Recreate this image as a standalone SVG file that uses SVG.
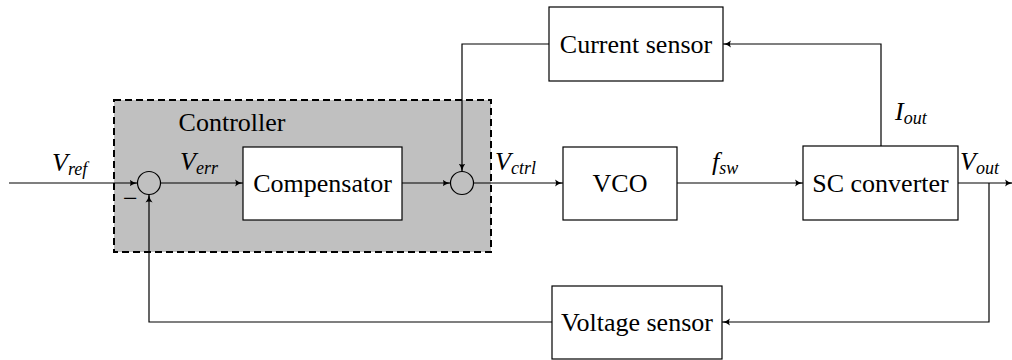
<svg xmlns="http://www.w3.org/2000/svg" width="1012" height="360" viewBox="0 0 1012 360">
<defs>
<marker id="ah" markerWidth="10" markerHeight="8" refX="8" refY="4" orient="auto" markerUnits="userSpaceOnUse">
<path d="M0,0.5 Q3,3.2 8,4 Q3,4.8 0,7.5 Q2,4 0,0.5Z" fill="#000"/>
</marker>
</defs>
<g id="controller">
<rect fill="#c0c0c0" stroke="#000" stroke-width="2" stroke-dasharray="7,4" x="114" y="100" width="377" height="152"/>
<text font-family="Liberation Serif" font-size="26" text-anchor="middle" x="232" y="131">Controller</text>
</g>
<g id="sum1"><circle fill="none" stroke="#000" stroke-width="1.2" cx="149" cy="183" r="11.5"/></g>
<g id="sum2"><circle fill="none" stroke="#000" stroke-width="1.2" cx="462" cy="183" r="11.5"/></g>
<g id="compensator"><rect fill="#fff" stroke="#000" stroke-width="1.2" x="243" y="147" width="159" height="73"/><text font-family="Liberation Serif" font-size="26" text-anchor="middle" x="322.5" y="192">Compensator</text></g>
<g id="vco"><rect fill="#fff" stroke="#000" stroke-width="1.2" x="563" y="147" width="114" height="73"/><text font-family="Liberation Serif" font-size="26" text-anchor="middle" x="620" y="192">VCO</text></g>
<g id="sc"><rect fill="#fff" stroke="#000" stroke-width="1.2" x="803" y="146" width="155" height="74"/><text font-family="Liberation Serif" font-size="26" text-anchor="middle" x="880.5" y="192">SC converter</text></g>
<g id="current"><rect fill="#fff" stroke="#000" stroke-width="1.2" x="549" y="7" width="174" height="74"/><text font-family="Liberation Serif" font-size="26" text-anchor="middle" x="636" y="53">Current sensor</text></g>
<g id="voltage"><rect fill="#fff" stroke="#000" stroke-width="1.2" x="552" y="286" width="170" height="73"/><text font-family="Liberation Serif" font-size="26" text-anchor="middle" x="637" y="331">Voltage sensor</text></g>
<g id="connectors" fill="none" stroke="#000" stroke-width="1.2" marker-end="url(#ah)">
<path d="M9,183 H137.5"/>
<path d="M160.5,183 H243"/>
<path d="M402,183 H450.5"/>
<path d="M473.5,183 H563"/>
<path d="M677,183 H803"/>
<path d="M958,183 H1013"/>
<path d="M881,146 V44 H723"/>
<path d="M549,44 H462 V171.5"/>
<path d="M989,183 V322 H722"/>
<path d="M552,322 H149 V194.5"/>
</g>
<g id="labels">
<text font-family="Liberation Serif" font-size="26" font-style="italic" x="52" y="171">V<tspan font-size="18" dy="4">ref</tspan></text>
<text font-family="Liberation Serif" font-size="26" x="123" y="207">−</text>
<text font-family="Liberation Serif" font-size="26" font-style="italic" x="180" y="170">V<tspan font-size="18" dy="4">err</tspan></text>
<text font-family="Liberation Serif" font-size="26" font-style="italic" x="495" y="170">V<tspan font-size="18" dy="4">ctrl</tspan></text>
<text font-family="Liberation Serif" font-size="26" font-style="italic" x="712" y="170">f<tspan font-size="18" dy="4">sw</tspan></text>
<text font-family="Liberation Serif" font-size="26" font-style="italic" x="895" y="120">I<tspan font-size="18" dy="4">out</tspan></text>
<text font-family="Liberation Serif" font-size="26" font-style="italic" x="960" y="170">V<tspan font-size="18" dy="4">out</tspan></text>
</g>
</svg>
